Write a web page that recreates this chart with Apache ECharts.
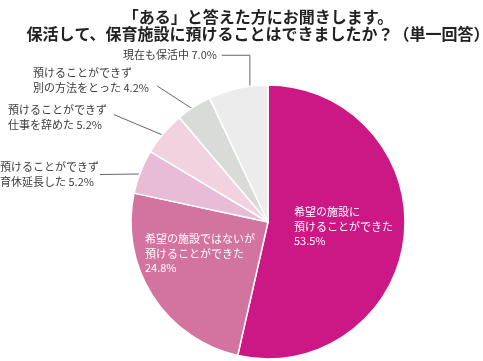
<!DOCTYPE html>
<html><head><meta charset="utf-8">
<script src="https://cdn.jsdelivr.net/npm/echarts@6/dist/echarts.min.js"></script>
<style>html,body{margin:0;padding:0;background:#fff}#c{width:483px;height:361px}</style>
</head><body><div id="c"></div>
<script>
const titleLines = ['「ある」と答えた方にお聞きします。', '保活して、保育施設に預けることはできましたか？（単一回答）'];
const categories = ['希望の施設に\n預けることができた', '希望の施設ではないが\n預けることができた', '預けることができず\n育休延長した', '預けることができず\n仕事を辞めた', '預けることができず\n別の方法をとった', '現在も保活中'];
const values = [53.5, 24.8, 5.2, 5.2, 4.2, 7.0];
const colors = ['#cc1884', '#d3739f', '#e8bbd7', '#f3d2df', '#d9dbd9', '#ececec'];
const insideLabel = [true, true, false, false, false, false];

// label placement (top-left of each label) and leader-line style
const labelPos = [
  {x: 294, y: 205},
  {x: 145, y: 232},
  {x: 0, y: 160, gap: 1, frac: 0.5},
  {x: 8, y: 103, gap: 7, frac: 0.4},
  {x: 33, y: 66, gap: 8, frac: 0.68},
  {x: 123, y: 48, gap: 5, frac: 0.5, elbow: 28}
];
const CENTER = [268, 222], R = 137, LINE_INSET = 6;
const FONT = '"Noto Sans CJK JP", "Noto Sans", sans-serif';

const chart = echarts.init(document.getElementById('c'), null, {renderer: 'canvas'});
const data = categories.map((n, i) => ({
  name: n,
  value: values[i],
  itemStyle: {color: colors[i]},
  label: insideLabel[i] ? {position: 'inside', color: '#fff'} : {position: 'outside', color: '#3c3c3c'},
  labelLine: {show: !insideLabel[i]}
}));

chart.setOption({
  animation: false,
  title: {
    text: titleLines.join('\n'),
    left: 253, top: 3, textAlign: 'center',
    textStyle: {fontFamily: FONT, fontSize: 16, fontWeight: 'bold', color: '#222', lineHeight: 17.5}
  },
  series: [{
    type: 'pie',
    center: CENTER,
    radius: R,
    startAngle: 90,
    clockwise: true,
    avoidLabelOverlap: false,
    emphasis: {disabled: true},
    itemStyle: {borderColor: '#fff', borderWidth: 1.5},
    label: {
      fontFamily: FONT, fontSize: 11, lineHeight: 14.5,
      formatter: p => insideLabel[p.dataIndex]
        ? p.name + '\n' + p.value.toFixed(1) + '%'
        : p.name + ' ' + p.value.toFixed(1) + '%'
    },
    labelLine: {lineStyle: {color: '#666', width: 1}, smooth: false},
    labelLayout: function (params) {
      const i = params.dataIndex, p = labelPos[i];
      const w = params.labelRect.width, h = params.labelRect.height;
      const res = {x: p.x, y: p.y, align: 'left', verticalAlign: 'top'};
      if (!insideLabel[i]) {
        const sx = p.x + w + p.gap, sy = p.y + h * p.frac;
        let pts;
        if (p.elbow) {
          const ex = sx + p.elbow, r = R - LINE_INSET;
          const ey = CENTER[1] - Math.sqrt(r * r - (ex - CENTER[0]) * (ex - CENTER[0]));
          pts = [[sx, sy], [ex, sy], [ex, ey]];
        } else {
          const lp = params.labelLinePoints;
          const a = lp[0], b = lp[1];
          const dx = b[0] - a[0], dy = b[1] - a[1], L = Math.hypot(dx, dy) || 1;
          const e = [a[0] - dx / L * LINE_INSET, a[1] - dy / L * LINE_INSET];
          pts = [[sx, sy], [(sx + e[0]) / 2, (sy + e[1]) / 2], e];
        }
        res.labelLinePoints = pts;
      }
      return res;
    },
    data: data
  }]
});
</script></body></html>
